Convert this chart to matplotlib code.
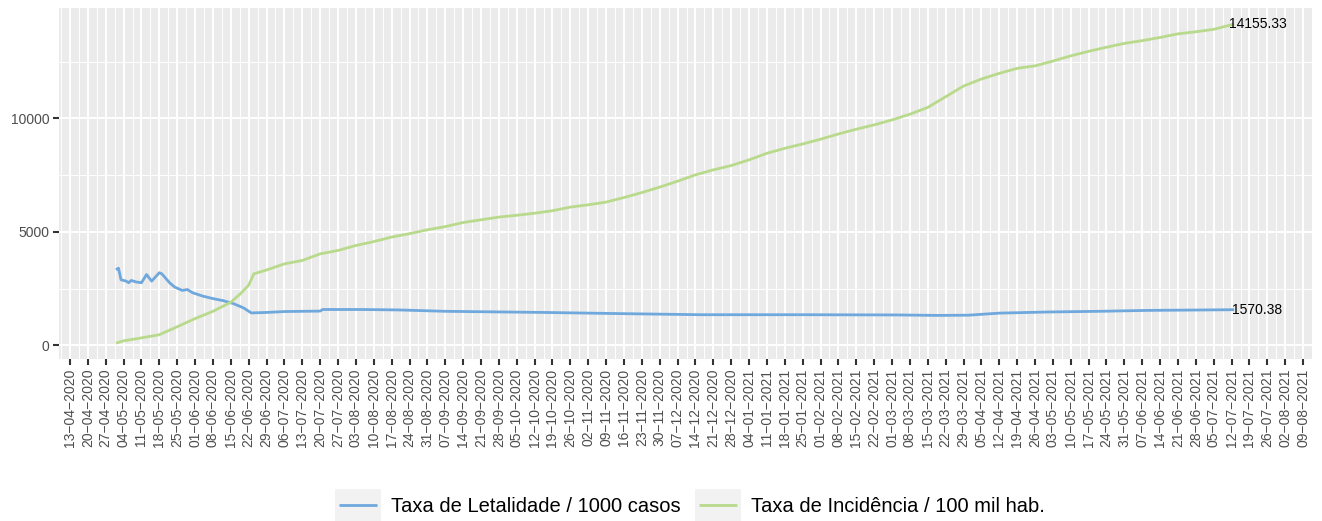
import pandas as pd
import matplotlib
matplotlib.use("Agg")
import matplotlib.pyplot as plt
from matplotlib.legend_handler import HandlerLine2D
from matplotlib.patches import Rectangle

plt.rcParams["font.family"] = ["Liberation Sans", "DejaVu Sans"]

# weekly date breaks shown on the x axis
tick_first = "13-04-2020"
tick_last = "09-08-2021"

# Taxa de Letalidade / 1000 casos
datas_letalidade = [
    "01-05-2020", "02-05-2020", "03-05-2020", "05-05-2020", "06-05-2020",
    "07-05-2020", "09-05-2020", "11-05-2020", "13-05-2020", "15-05-2020",
    "18-05-2020", "19-05-2020", "22-05-2020", "24-05-2020", "27-05-2020",
    "29-05-2020", "31-05-2020", "04-06-2020", "08-06-2020", "12-06-2020",
    "16-06-2020", "20-06-2020", "23-06-2020", "29-06-2020", "06-07-2020",
    "13-07-2020", "20-07-2020", "21-07-2020", "05-08-2020", "20-08-2020",
    "07-09-2020", "16-10-2020", "14-11-2020", "16-12-2020", "24-01-2021",
    "03-03-2021", "19-03-2021", "31-03-2021", "12-04-2021", "01-05-2021",
    "21-05-2021", "09-06-2021", "13-07-2021",
]
letalidade = [
    3330, 3400, 2890, 2830, 2760,
    2860, 2790, 2760, 3120, 2830,
    3200, 3150, 2760, 2570, 2420,
    2460, 2320, 2170, 2060, 1970,
    1840, 1650, 1430, 1450, 1490,
    1500, 1510, 1580, 1580, 1560,
    1500, 1450, 1400, 1350, 1350,
    1340, 1320, 1330, 1420, 1470,
    1500, 1540, 1570.38,
]

# Taxa de Incidencia / 100 mil hab.
datas_incidencia = [
    "01-05-2020", "04-05-2020", "11-05-2020", "18-05-2020", "25-05-2020",
    "01-06-2020", "08-06-2020", "15-06-2020", "19-06-2020", "22-06-2020",
    "23-06-2020", "24-06-2020", "29-06-2020", "06-07-2020", "13-07-2020",
    "20-07-2020", "27-07-2020", "03-08-2020", "10-08-2020", "17-08-2020",
    "24-08-2020", "31-08-2020", "07-09-2020", "14-09-2020", "21-09-2020",
    "28-09-2020", "05-10-2020", "12-10-2020", "19-10-2020", "26-10-2020",
    "02-11-2020", "09-11-2020", "16-11-2020", "23-11-2020", "30-11-2020",
    "07-12-2020", "14-12-2020", "21-12-2020", "28-12-2020", "04-01-2021",
    "11-01-2021", "18-01-2021", "25-01-2021", "01-02-2021", "08-02-2021",
    "15-02-2021", "22-02-2021", "01-03-2021", "08-03-2021", "15-03-2021",
    "22-03-2021", "29-03-2021", "05-04-2021", "12-04-2021", "19-04-2021",
    "26-04-2021", "03-05-2021", "10-05-2021", "17-05-2021", "24-05-2021",
    "31-05-2021", "07-06-2021", "14-06-2021", "21-06-2021", "28-06-2021",
    "05-07-2021", "12-07-2021", "13-07-2021",
]
incidencia = [
    100, 200, 330, 470, 820,
    1180, 1500, 1900, 2300, 2650,
    2900, 3150, 3320, 3590, 3740,
    4030, 4180, 4400, 4570, 4770,
    4920, 5090, 5230, 5410, 5530,
    5650, 5730, 5820, 5930, 6090,
    6190, 6310, 6510, 6730, 6970,
    7230, 7510, 7730, 7920, 8170,
    8460, 8680, 8870, 9080, 9310,
    9520, 9710, 9930, 10180, 10480,
    10950, 11420, 11730, 11980, 12200,
    12310, 12520, 12750, 12950, 13130,
    13300, 13420, 13560, 13720, 13810,
    13920, 14120, 14155.33,
]

series_labels = ["Taxa de Letalidade / 1000 casos", "Taxa de Incidência / 100 mil hab."]
series_colors = ["#6FA8DC", "#B9DA8C"]

y_breaks = [0, 5000, 10000]
y_minor = [2500, 7500, 12500]


class KeyHandler(HandlerLine2D):
    # ggplot-like legend key: grey box behind the line
    def create_artists(self, legend, orig_handle, xdescent, ydescent,
                       width, height, fontsize, trans):
        artists = super().create_artists(legend, orig_handle, xdescent, ydescent,
                                         width, height, fontsize, trans)
        box = Rectangle((-xdescent - 3, -ydescent - 0.6 * height), width + 6, 2.2 * height,
                        facecolor="#F2F2F2", edgecolor="none", transform=trans)
        return [box] + list(artists)


def parse(d):
    return pd.to_datetime(d, format="%d-%m-%Y")


x_let = parse(datas_letalidade)
x_inc = parse(datas_incidencia)
breaks = pd.date_range(parse(tick_first), parse(tick_last), freq="7D")
minor = breaks - pd.Timedelta(hours=84)
minor = minor.append(pd.DatetimeIndex([breaks[-1] + pd.Timedelta(hours=84)]))

fig = plt.figure(figsize=(13.22, 5.21), dpi=100)
ax = fig.add_axes([59 / 1322, 1 - 359 / 521, (1312 - 59) / 1322, (359 - 8) / 521])
ax.set_facecolor("#EBEBEB")

l1, = ax.plot(x_let, letalidade, color=series_colors[0], lw=2.0, solid_capstyle="butt")
l2, = ax.plot(x_inc, incidencia, color=series_colors[1], lw=2.0, solid_capstyle="butt")

# end-of-series value labels
ax.annotate(f"{letalidade[-1]:.2f}", (x_let[-1], letalidade[-1]), xytext=(-1.5, 0),
            textcoords="offset points", ha="left", va="center", fontsize=10, color="black")
ax.annotate(f"{incidencia[-1]:.2f}", (x_inc[-1], incidencia[-1]), xytext=(-4, 0),
            textcoords="offset points", ha="left", va="center", fontsize=10, color="black")

ax.set_xlim(parse(tick_first) - pd.Timedelta(hours=103), parse(tick_last) + pd.Timedelta(hours=84))
ax.set_ylim(-600, 14858)

ax.set_xticks(breaks)
ax.set_xticks(minor, minor=True)
ax.set_xticklabels([d.strftime("%d-%m-%Y").replace("-", "\u2212") for d in breaks],
                   rotation=90)
ax.set_yticks(y_breaks)
ax.set_yticks(y_minor, minor=True)
ax.set_yticklabels([str(v) for v in y_breaks])

ax.grid(which="major", color="white", lw=1.4)
ax.grid(which="minor", color="white", lw=0.7)
ax.set_axisbelow(True)
for s in ax.spines.values():
    s.set_visible(False)
ax.tick_params(which="major", length=4, width=1.5, color="#333333",
               labelcolor="#4D4D4D", labelsize=10, pad=3)
ax.tick_params(which="minor", length=0)

fig.legend([l1, l2], series_labels, loc="center", bbox_to_anchor=(692 / 1322, 14 / 521),
           ncol=2, frameon=False, fontsize=14.5, handlelength=1.9, handleheight=0.8,
           handletextpad=0.7, columnspacing=0.9,
           handler_map={matplotlib.lines.Line2D: KeyHandler()})

fig.savefig("out.png", dpi=100)
plt.close(fig)
